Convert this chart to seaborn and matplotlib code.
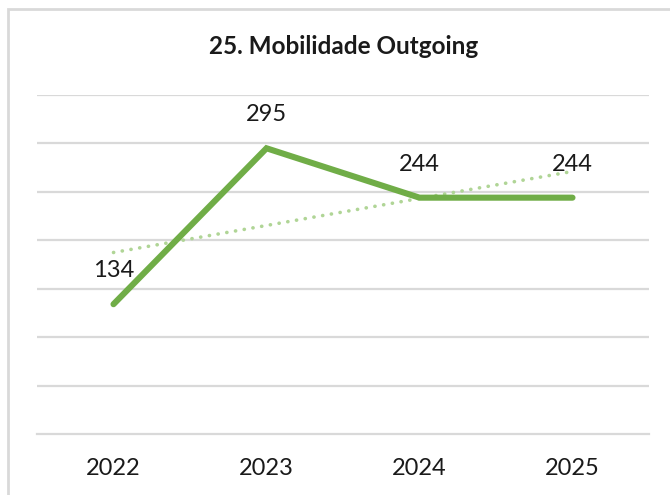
import matplotlib
matplotlib.use("Agg")
import matplotlib.pyplot as plt
import seaborn as sns
import numpy as np
import pandas as pd
from matplotlib.patches import Rectangle

# data
years = ["2022", "2023", "2024", "2025"]
values = [134, 295, 244, 244]
title = "25. Mobilidade Outgoing"

sns.set_style("white")
plt.rcParams['font.family'] = ['Lato', 'DejaVu Sans']

df = pd.DataFrame({"ano": years, "valor": values})
pos = np.arange(len(years))

fig = plt.figure(figsize=(6.7, 4.95), dpi=100)
ax = fig.add_axes([37/670, 1 - 434/495, 612/670, 339/495])

# linear trendline (dotted), as Excel draws it
coef = np.polyfit(pos, values, 1)
trend = np.polyval(coef, pos)
sns.lineplot(x=pos, y=trend, ax=ax, color="#B0D596", linewidth=2.6,
             linestyle=(0, (0.05, 2.4)), dash_capstyle="round", zorder=2)

sns.lineplot(data=df, x=pos, y="valor", ax=ax, color="#70AD47", linewidth=4.4,
             solid_capstyle="round", solid_joinstyle="miter", zorder=3)

for i, v in enumerate(values):
    ax.annotate(str(v), (pos[i], v), xytext=(0, 24), textcoords="offset points",
                ha="center", va="center", fontsize=17, color="#1a1a1a")

ax.set_xlim(-0.5, len(years) - 0.5)
ax.set_ylim(0, 350)
ax.set_yticks(np.arange(50, 351, 50))
ax.yaxis.grid(True, color="#D9D9D9", linewidth=1.6)
ax.set_yticklabels([])
ax.tick_params(axis="y", length=0)

ax.set_xticks(pos)
ax.set_xticklabels(years, fontsize=17, color="#1a1a1a")
ax.tick_params(axis="x", length=0, pad=17)
# tick marks between categories
ax.set_xticks(np.arange(-0.5, len(years), 1), minor=True)
ax.tick_params(axis="x", which="minor", length=9, width=1.6, color="#D9D9D9", direction="out")

for s in ["top", "right", "left"]:
    ax.spines[s].set_visible(False)
ax.spines["bottom"].set_color("#D9D9D9")
ax.spines["bottom"].set_linewidth(1.6)
ax.set_xlabel("")
ax.set_ylabel("")

fig.text(344/670, 1 - 47/495, title, ha="center", va="center",
         fontsize=17.5, fontweight="bold", color="#1a1a1a")

# chart frame (cropped at right/bottom)
fig.patches.append(Rectangle((8/670, -0.1), 1.2, 1 - 9/495 + 0.1, transform=fig.transFigure,
                             fill=False, edgecolor="#D9D9D9", linewidth=2))

fig.savefig("out.png", dpi=100)
